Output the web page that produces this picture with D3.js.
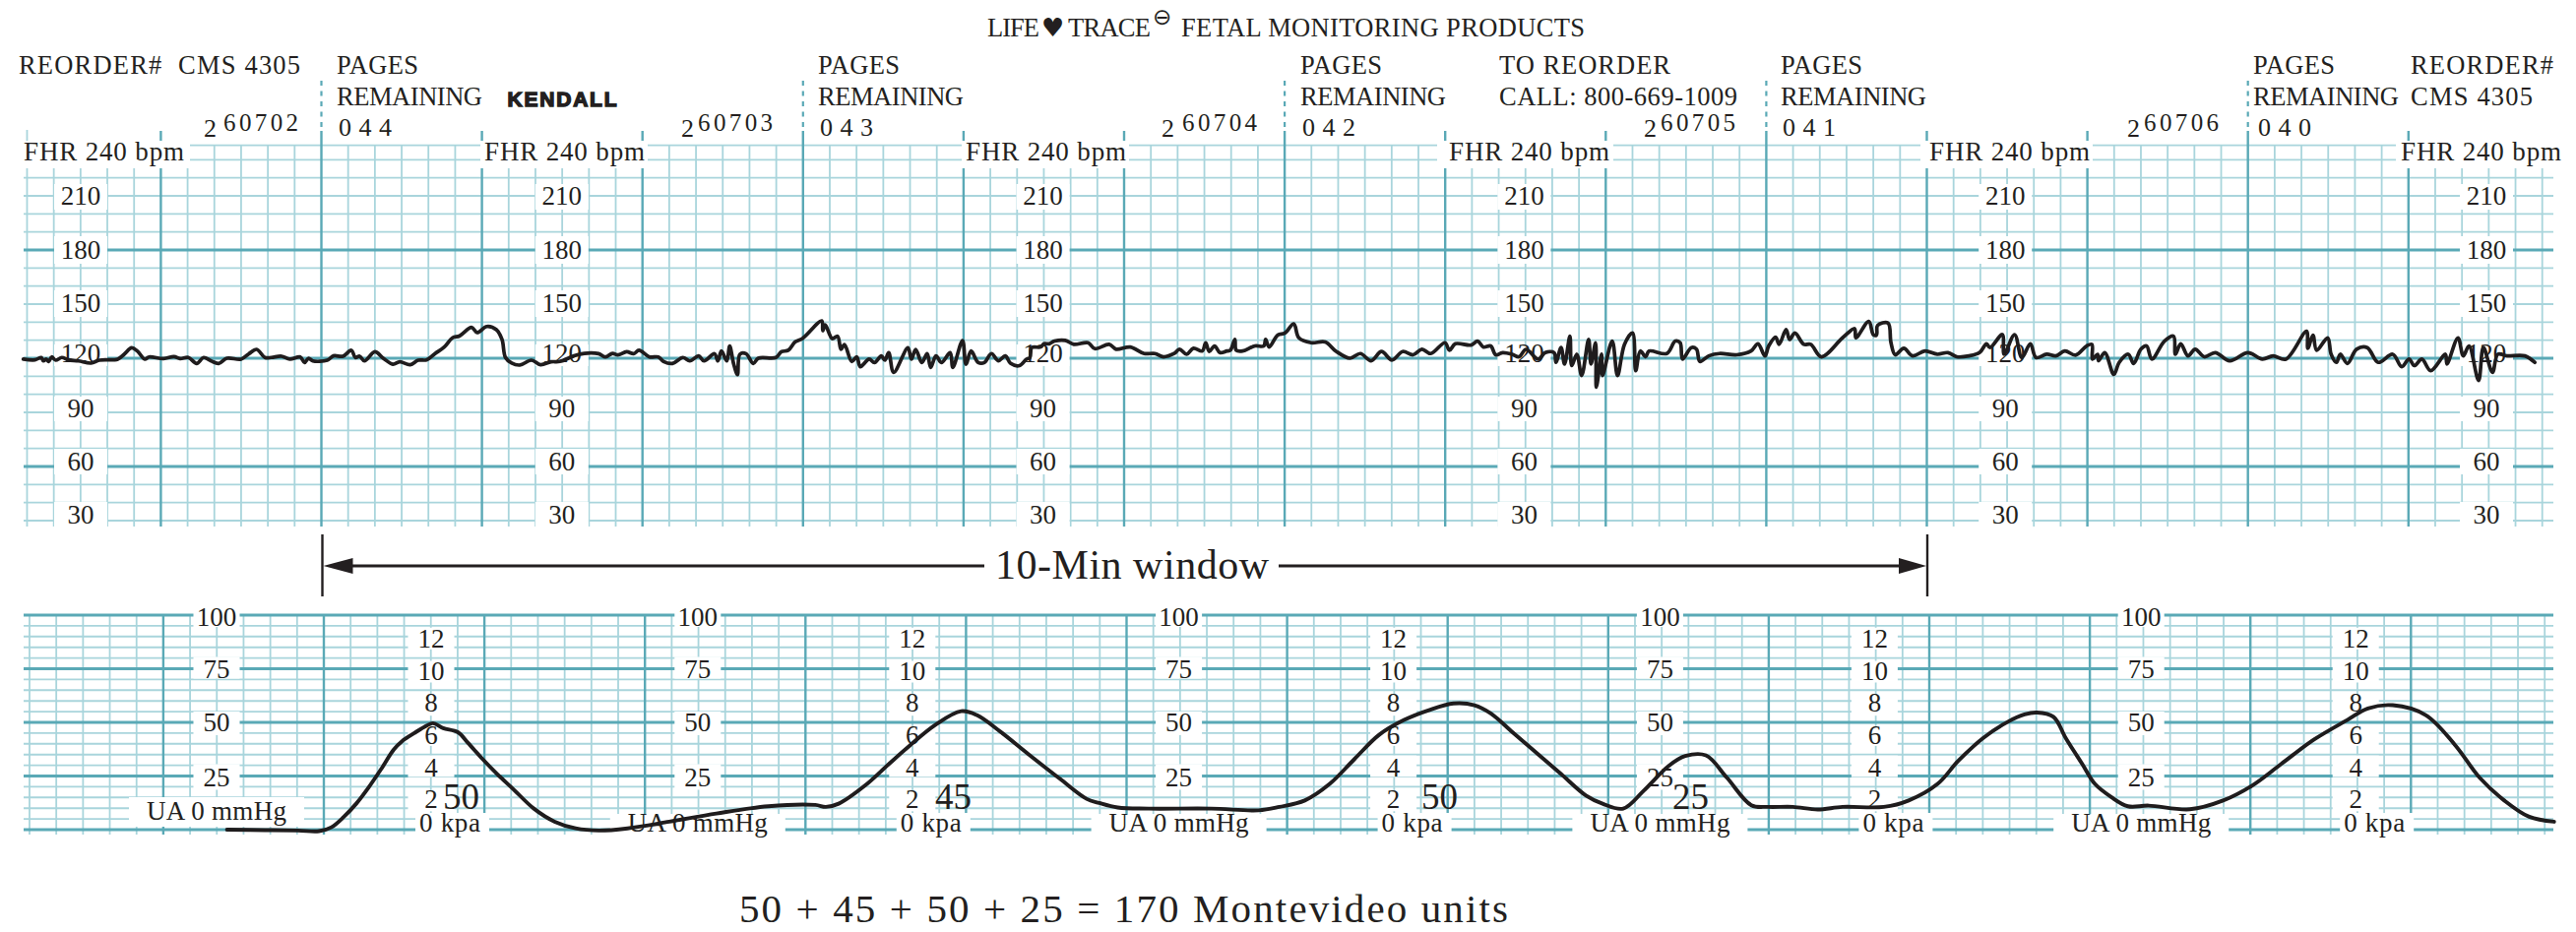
<!DOCTYPE html>
<html><head><meta charset="utf-8">
<style>html,body{margin:0;padding:0;background:#fff;overflow:hidden}svg{display:block}</style>
<script src="https://cdn.jsdelivr.net/npm/d3@7/dist/d3.min.js"></script>
</head><body><div id="chart"></div>
<script>
// ---------- data (time in seconds from the start of the 10-min window) ----------
const fhrTime=[-111.4,-107,-104.7,-103.9,-102.9,-101.9,-100.8,-99.3,-97,-94.6,-90.8,-86.1,-83,-76.1,-73.7,-70.9,-68.8,-66,-64.4,-59,-55.1,-52.8,-49.7,-46.6,-44,-41.2,-38.4,-35.3,-30,-27.3,-24.2,-21.1,-18.7,-14.9,-11.8,-7.9,-6.3,-4.8,-3.2,2.2,4.5,8.1,11.2,12.7,14.3,16.1,20,23.1,26.7,29.3,33.2,36.2,39.3,42.4,45.9,49,51.7,56.1,58.2,61.8,65.4,67.5,68.8,71.1,74.2,78.5,81.9,85.8,
89.1,94.4,98.3,103.6,106.2,108.8,110.8,114.1,116.7,118.7,122.6,125.9,127.9,131.2,135.1,137.7,141,143,146.9,148.2,149.5,151.5,152.6,154.1,155.5,156.4,158.7,161.4,163.3,169.9,171.9,174.5,177.1,179.8,187,187.4,188.3,190.9,192.9,194.2,195.5,198.2,200.1,201.4,204.7,206.7,209.3,210.6,212,213.9,219.2,220.5,222.1,224.4,226.4,227.7,229.7,231.7,235,236,239.6,240.9,242.8,245.5,247.8,
250.4,253,255.6,257.6,260.9,263.5,264.8,265.5,268.8,270.1,272,274,278,281.2,286.5,289.1,294.4,297,302.3,307.5,311.5,314.7,318.7,320.7,323.3,325.9,329.2,330.5,331.8,333.8,335.8,338.4,339.7,341.4,341.9,344.3,348.9,352.2,352.9,354.2,357.4,360.1,363.4,365.3,369.9,375.2,379.1,384.4,388.3,392.3,396.2,400.1,404.1,408,411.3,414.6,419.9,421.6,423.8,429.7,432.1,434.3,437,438.9,441.5,
445,447.6,450.2,454.8,457.4,460.7,461.4,463.3,464.6,466.6,467.3,469.2,471,473.6,474.5,476.2,476.5,478.4,478.8,482.4,484.4,487,490,491.2,492.9,494.9,496.2,502.8,506,507.8,508.7,512,513.9,515.2,518.5,522.5,529,534.3,536.9,539.5,540.9,543.5,544.8,547.4,548.7,550.7,554,556.6,560.6,568.5,573,573.5,578.3,580,581.2,581.6,585.5,586.6,588.2,591.4,594.7,599.3,603.9,607.9,611.2,615.8,619.7,622.3,623.6,628.2,628.9,632.8,635.5,
638.7,640.8,644.8,648.2,651.6,655.6,659.7,661.7,661.9,663.8,664.2,666.5,669.9,671.9,675.3,677.3,680,682.1,684.1,688.8,692.2,692.9,694.9,697.6,700.3,703.7,707.8,713.2,720,725.4,729.4,734.2,741.9,742.4,744.3,745.7,749.8,751.1,753.1,754.5,757.2,760.6,764.6,768.7,774.1,777.5,780.2,782.2,785,788.3,793.8,794.4,798.5,800.5,802.6,806.2,808,811.4,813.4,816.8,823.5,827.2];
const fhrBpm=[119.5,119.1,120.4,118.5,119.5,118.2,120.7,118.9,120.4,119.1,118.5,117.3,118.9,119.5,122.2,125.8,124,119.5,120.7,119.8,120.9,119.8,120.4,117.1,120.4,118.5,117.1,120,119.5,122.2,124.9,120.4,120.4,121.1,119.5,120.7,117.6,120,118.5,118.9,121.3,121.1,124.4,120.4,121.1,118.5,123.6,120,116.7,118,116.4,118.9,119.1,122.5,126.2,131.3,132.4,137.1,134.2,137.6,135.8,130.4,120.4,117.3,116.2,118.9,116.4,118,
118.2,121.3,122.7,122.5,120.7,122.7,121.8,123.6,122.5,124.4,120.7,120.7,118.2,117.1,120.4,118.5,121.3,118.5,122.5,118.5,124,118.5,126.7,116.7,110.9,122.2,122.5,117.1,120,120.4,123.6,124.4,129.1,130.9,140.7,135.3,138.5,130.9,132.2,124.9,127.6,118.2,120.7,115.3,119.5,117.6,121.3,118.9,123.1,112.2,125.8,119.5,124.9,117.6,122.5,114.9,121.3,117.6,123.1,114.9,129.8,116.7,124,117.6,117.6,
122.6,118.6,121.3,117.1,115.9,119.5,120.4,125.9,126.2,128,128,129.5,129.9,127.7,128.6,125.3,127.7,125,126.2,122.6,122.6,120.8,122.6,125,122.2,125.5,124,128.6,123.7,126.8,123.1,124,124.4,130.4,124.4,124,126.8,126.8,130.4,126.2,132.8,134,139,131.3,128.6,129,124,120,122.6,118.6,123.7,119,123.7,121.9,125,122.6,128.6,124.4,128,127.3,129.5,126.2,126.8,121.9,123.1,
122.2,120.8,124.9,119.5,123.1,123.1,117.7,125.9,116.8,132.2,115.9,122.2,110.4,130.4,116.8,128.6,104,122.2,110.4,129.5,110.4,127.7,134,113.1,124,120.8,124,122.6,129.5,128.6,119.5,125.9,125,118.2,121.3,122.6,121.9,124,128,121.3,126.8,131.7,127.7,135.9,130.4,134,127.7,127.7,120.8,131.3,136.4,131.3,140.4,133.1,132.8,138.2,139.5,128.6,121.9,125.5,121.3,124,122.2,123.1,120.8,121.3,123.1,128,125.9,133.1,122.2,133.1,120.4,
128,120.4,122.2,121.3,124,121.7,126.8,127.7,119.5,122.2,118.6,123.1,111,117.7,122.2,117.1,125,126.8,119.5,129.5,132.2,122.2,128,121.3,125,120.8,123.1,118.6,123.1,119.5,121.3,119.5,135,125.5,132.8,124.4,131.3,122.2,117.7,122.2,117.1,125,125.9,117.7,122.2,115.3,119.5,115.9,119.5,113.1,122.2,116.8,131.3,121.3,126.8,107.7,125.9,112.2,122.2,121.3,121.3,117.7];
const uaTime=[-36.2,-22,-9.6,-1.8,2.8,7.5,12.1,16.8,21.4,26.1,29.2,33.8,38.5,40.8,44.6,50.1,53.9,59.4,64.8,70.7,78.5,86.3,94.1,102.8,113.5,129.1,146.7,166.1,183.7,187.6,192.4,202.2,211,218.7,228.5,238.2,244,252.8,263.5,275.2,285,289.8,296.7,308.3,331.7,349.3,357.1,366.6,375.9,385.1,394.4,403.7,413,422.2,430,436.1,443.9,453.2,462.4,471.7,477.9,485.6,493.3,502.6,508.8,516.5,524.3,533.5,539.7,549,558.3,567.6,583,592.3,603.1,610.8,620.1,629.4,635.6,640.2,646.4,651,657.2,661.9,668,674.2,682,697.4,709.8,720.6,731.4,743.8,756.2,763.9,773.2,785.5,796.4,805.6,814.9,824.2,833.5];
const uaMmHg=[0,-0.2,-0.4,-0.7,1.1,6,12.1,19.8,28.2,37.3,41.2,45,48.5,49.6,47.3,45.4,40.4,32.8,25.9,19,9.8,3.7,0.6,-0.4,0.6,3.7,7.5,10.9,11.5,10.6,12.1,20.5,30.4,38.9,48.8,55.2,53.4,45.7,35,23.6,14.4,12.4,10.3,9.8,9.8,9,10.6,13.6,21.3,32.8,44.2,51.1,55.7,58.8,58,54.2,45.8,35.8,25.9,15.9,12.1,9.8,18.2,29.7,34.3,34.6,24.3,11.4,10.6,10.6,9.4,10.6,10.6,13.6,21.3,32,42.7,50.3,53.7,54.6,52.6,42.7,30.5,21.3,15.2,10.9,11.2,9.5,13.6,20.5,30.5,42,51.1,56.5,58,53.4,39.6,24.3,13.6,6,3.7];
const fhrTicks=[210,180,150,120,90,60,30];
const fhrMajor=[60,120,180];
const mmHgTicks=[100,75,50,25];
const kpaTicks=[12,10,8,6,4,2];
const chartNumbers=["60702","60703","60704","60705","60706"];
const pagesLeft=["0 4 4","0 4 3","0 4 2","0 4 1","0 4 0"];
const mvuValues=["50","45","50","25"];
const equationText="50 + 45 + 50 + 25 = 170 Montevideo units";

// ---------- layout ----------
const W=2617,H=947;
const teal="#5aa9b6",light="#a9d5dc",ink="#231f20";
const FONT="'Liberation Serif','Times New Roman',serif";
const svg=d3.select("#chart").append("svg").attr("width",W).attr("height",H).attr("viewBox",[0,0,W,H]);
svg.append("rect").attr("width",W).attr("height",H).attr("fill","#fff");

const xTop=d3.scaleLinear().domain([0,600]).range([326.5,1957.5]);
const xBot=d3.scaleLinear().domain([0,600]).range([329,1960]);
const yFhr=d3.scaleLinear().domain([30,240]).range([529,144]);
const yUa=d3.scaleLinear().domain([0,100]).range([843,625]);
const gridSec=d3.range(-110,831,10);
const gridL=24,gridR=2594;
const strip=488.8;
const strips=d3.range(6);

function T(g,s,x,y,size,o={}){
  const t=g.append("text").attr("x",x).attr("y",y).attr("font-family",o.family||FONT)
    .attr("font-size",size).attr("fill",o.fill||ink).text(s);
  if(o.anchor)t.attr("text-anchor",o.anchor);
  if(o.len)t.attr("textLength",o.len).attr("lengthAdjust","spacing");
  if(o.weight)t.attr("font-weight",o.weight);
  return t;
}
const isMajor=d=>((d%60)+60)%60===0;

// ---------- top grid ----------
const gTop=svg.append("g");
const topHLines=d3.range(30,240,10).concat([238]);
gTop.selectAll("line.h").data(topHLines.filter(d=>!fhrMajor.includes(d))).join("line")
  .attr("x1",gridL).attr("x2",gridR).attr("y1",d=>yFhr(d)).attr("y2",d=>yFhr(d))
  .attr("stroke",light).attr("stroke-width",1.9);
gTop.selectAll("line.v").data(gridSec.filter(d=>!isMajor(d))).join("line")
  .attr("x1",d=>xTop(d)).attr("x2",d=>xTop(d)).attr("y1",d=>d===-110?132:yFhr(238)).attr("y2",535)
  .attr("stroke",light).attr("stroke-width",1.8);
gTop.selectAll("line.m").data(gridSec.filter(isMajor)).join("line")
  .attr("x1",d=>xTop(d)).attr("x2",d=>xTop(d)).attr("y1",133).attr("y2",535)
  .attr("stroke",teal).attr("stroke-width",2.4);
gTop.selectAll("line.mh").data(fhrMajor).join("line")
  .attr("x1",gridL).attr("x2",gridR).attr("y1",d=>yFhr(d)).attr("y2",d=>yFhr(d))
  .attr("stroke",teal).attr("stroke-width",2.8);
// dashed extensions every 3 minutes
gTop.selectAll("line.d").data(pagesLeft.map((_,i)=>i*180)).join("line")
  .attr("x1",d=>xTop(d)).attr("x2",d=>xTop(d)).attr("y1",82).attr("y2",131)
  .attr("stroke",teal).attr("stroke-width",2.2).attr("stroke-dasharray","5 5.5");

// FHR header boxes
const fhrBoxes=[[20,193],[488,658],[977,1147],[1460,1639],[1951,2126],[2434,2610]];
const fhrText=[24,492,981,1472,1960,2439];
fhrBoxes.forEach(b=>gTop.append("rect").attr("x",b[0]).attr("y",143).attr("width",b[1]-b[0]).attr("height",28).attr("fill","#fff"));
fhrText.forEach(x=>T(gTop,"FHR 240 bpm",x,163,27,{len:163}));

// FHR tick labels
const tickBoxPad={210:[-12,14],180:[-14,14],150:[-14,13],120:[-14,8],90:[-16,9],60:[-18,8],30:[-19,6]};
const tickBase={210:9,180:9,150:8,120:4,90:5,60:4,30:3};
strips.forEach(i=>{
  const cx=82+strip*i;
  fhrTicks.forEach(v=>{
    const y=yFhr(v),p=tickBoxPad[v];
    gTop.append("rect").attr("x",cx-27).attr("y",y+p[0]).attr("width",54).attr("height",p[1]-p[0]).attr("fill","#fff");
    T(gTop,String(v),cx,y+tickBase[v],27,{anchor:"middle"});
  });
});

// ---------- bottom grid ----------
const gBot=svg.append("g");
const uaMinor=d3.range(0,100,5).filter(d=>d%25!==0);
gBot.selectAll("line.h").data(uaMinor).join("line")
  .attr("x1",gridL).attr("x2",gridR).attr("y1",d=>yUa(d)).attr("y2",d=>yUa(d))
  .attr("stroke",light).attr("stroke-width",1.9);
gBot.selectAll("line.v").data(gridSec.filter(d=>!isMajor(d))).join("line")
  .attr("x1",d=>xBot(d)).attr("x2",d=>xBot(d)).attr("y1",yUa(100)).attr("y2",848)
  .attr("stroke",light).attr("stroke-width",1.8);
gBot.selectAll("line.m").data(gridSec.filter(isMajor)).join("line")
  .attr("x1",d=>xBot(d)).attr("x2",d=>xBot(d)).attr("y1",yUa(100)).attr("y2",848)
  .attr("stroke",teal).attr("stroke-width",2.4);
gBot.selectAll("line.mh").data(d3.range(0,101,25)).join("line")
  .attr("x1",gridL).attr("x2",gridR).attr("y1",d=>yUa(d)).attr("y2",d=>yUa(d))
  .attr("stroke",teal).attr("stroke-width",3);

const mmBase={100:11,75:9.5,50:9,25:10.5};
const mmBox={100:[-8,12],75:[-12,10],50:[-11,13],25:[-12,14]};
const kpaBox={12:[-9,13],10:[-8,14],8:[-6,15],6:[-7,13],4:[-10,12],2:[-7,14]};
d3.range(5).forEach(i=>{
  const cx=220+strip*i,kx=438+strip*i;
  mmHgTicks.forEach(v=>{
    const y=yUa(v),p=mmBox[v];
    gBot.append("rect").attr("x",cx-23.5).attr("y",y+p[0]).attr("width",47).attr("height",p[1]-p[0]).attr("fill","#fff");
    T(gBot,String(v),cx,y+mmBase[v],27,{anchor:"middle"});
  });
  gBot.append("rect").attr("x",cx-89).attr("y",i===0?810:827).attr("width",178).attr("height",i===0?30:21).attr("fill","#fff");
  T(gBot,"UA 0 mmHg",cx-71,i===0?833:845,27,{len:142});
  kpaTicks.forEach(v=>{
    const y=yUa(v*7.5),p=kpaBox[v];
    gBot.append("rect").attr("x",kx-23.5).attr("y",y+p[0]).attr("width",47).attr("height",p[1]-p[0]).attr("fill","#fff");
    T(gBot,String(v),kx,y+11,27,{anchor:"middle"});
  });
  const kt=426+strip*i;
  gBot.append("rect").attr("x",kt-4).attr("y",826).attr("width",75).attr("height",22).attr("fill","#fff");
  T(gBot,"0 kpa",kt,845,27,{len:62});
});

// ---------- headers ----------
const gHead=svg.append("g");
T(gHead,"LIFE",1003,36.7,26.5,{len:53});
T(gHead,"\u2665",1058,36.7,26,{family:"'DejaVu Sans'"});
T(gHead,"TRACE",1085,36.7,26.5,{len:84});
T(gHead,"\u2296",1171,25,23,{family:"'DejaVu Sans'"});
T(gHead,"FETAL MONITORING PRODUCTS",1200,36.7,26.5,{len:410});
T(gHead,"REORDER#  CMS 4305",19,75,26.5,{len:286}).style("white-space","pre");
T(gHead,"KENDALL",515.5,108,21,{family:"'Liberation Sans'",weight:700,len:111}).attr("stroke",ink).attr("stroke-width",1.4);
const pagesX=[342,831,1321,1809,2292];
pagesX.forEach((x,i)=>{
  T(gHead,"PAGES",i===4?x-3:x,75,26.5,{len:83});
  T(gHead,"REMAINING",i===4?x-3:x,107,26.5,{len:148});
  T(gHead,pagesLeft[i],x+2,138,26,{len:54});
});
T(gHead,"TO REORDER",1523,75,26.5,{len:174});
T(gHead,"CALL: 800-669-1009",1523,107,26.5,{len:242});
T(gHead,"REORDER#",2449,75,26.5,{len:145});
T(gHead,"CMS 4305",2449,107,26.5,{len:124});
const numX=[227,709,1201,1687,2178],twoX=[207,692,1180,1670,2161];
chartNumbers.forEach((n,i)=>{
  T(gHead,n,numX[i],133,25,{len:76});
  T(gHead,"2",twoX[i],139,26);
});

// ---------- traces ----------
const line=d3.line().curve(d3.curveCatmullRom.alpha(.5));
const traces=svg.append("g").attr("fill","none").attr("stroke","#1f1c1d").attr("stroke-linejoin","round").attr("stroke-linecap","round");
traces.append("path").attr("stroke-width",3.7)
  .attr("d",line(fhrTime.map((t,i)=>[xTop(t),yFhr(fhrBpm[i])])));
traces.append("path").attr("stroke-width",3.9)
  .attr("d",line(uaTime.map((t,i)=>[xBot(t),yUa(uaMmHg[i])])));

// ---------- annotations ----------
const gAnn=svg.append("g");
const mvuX=[450,950,1444,1699];
mvuValues.forEach((v,i)=>T(gAnn,v,mvuX[i],822,37));
const xa=xTop(0)+1,xb=xTop(600)+.5;
[xa,xb].forEach(x=>gAnn.append("line").attr("x1",x).attr("x2",x).attr("y1",543).attr("y2",606).attr("stroke",ink).attr("stroke-width",2.4));
gAnn.append("line").attr("x1",xa+25).attr("x2",1000).attr("y1",575).attr("y2",575).attr("stroke",ink).attr("stroke-width",3);
gAnn.append("line").attr("x1",1299).attr("x2",xb-25).attr("y1",575).attr("y2",575).attr("stroke",ink).attr("stroke-width",3);
gAnn.append("path").attr("d",d3.line()([[xa+1,575],[xa+31,567],[xa+31,583]])+"Z").attr("fill",ink);
gAnn.append("path").attr("d",d3.line()([[xb-1,575],[xb-29,567],[xb-29,583]])+"Z").attr("fill",ink);
T(gAnn,"10-Min window",1011,588,42,{len:278});
T(gAnn,equationText,751,937,41,{len:781});
</script></body></html>
